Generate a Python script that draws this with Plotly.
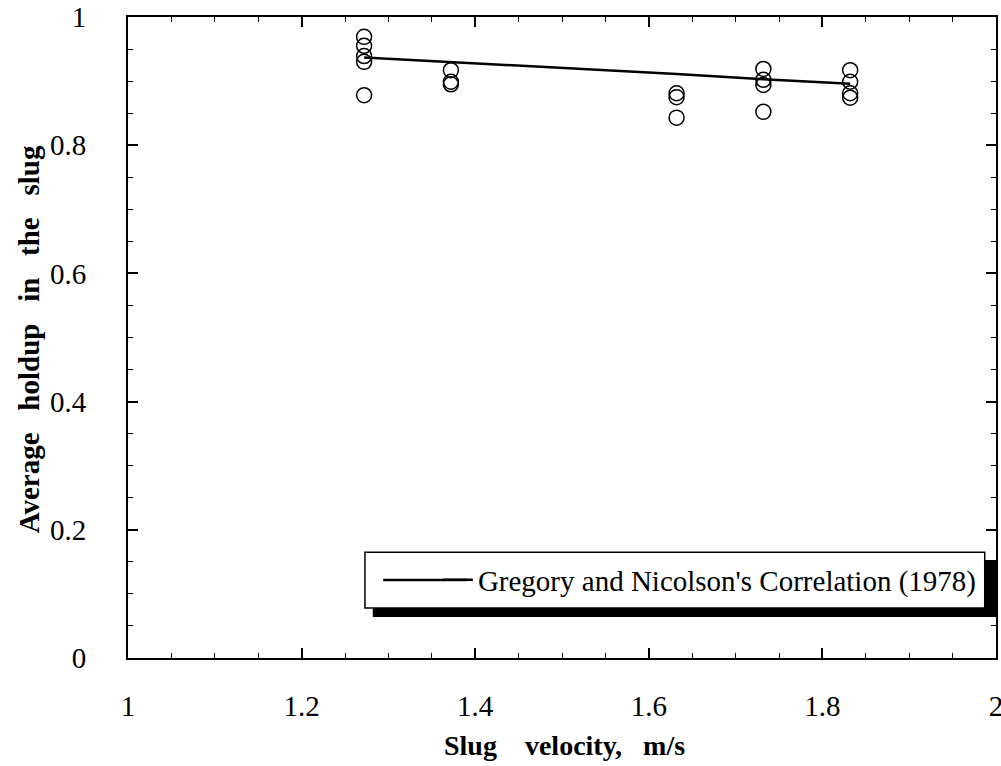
import plotly.graph_objects as go

# Measured data (slug velocity, m/s ; average holdup)
vel_meas = [1.272, 1.272, 1.272, 1.272, 1.272,
            1.372, 1.372, 1.372,
            1.632, 1.632, 1.632,
            1.732, 1.732, 1.732, 1.732,
            1.832, 1.832, 1.832, 1.832]
holdup_meas = [0.969, 0.955, 0.939, 0.930, 0.878,
               0.917, 0.899, 0.895,
               0.881, 0.875, 0.843,
               0.919, 0.902, 0.894, 0.852,
               0.917, 0.899, 0.881, 0.874]

# Gregory and Nicolson's correlation
vel_corr = [1.272, 1.372, 1.632, 1.732, 1.832]
holdup_corr = [0.937, 0.930, 0.911, 0.903, 0.896]

x_ticks = [1, 1.2, 1.4, 1.6, 1.8, 2]
x_labels = ["1", "1.2", "1.4", "1.6", "1.8", "2"]
y_ticks = [0, 0.2, 0.4, 0.6, 0.8, 1]
y_labels = ["0", "0.2", "0.4", "0.6", "0.8", "1"]

x_title = "Slug\u00a0\u00a0\u00a0\u00a0velocity,\u00a0\u00a0\u00a0m/s"
y_title = "\u00a0\u00a0\u00a0".join(["Average", "holdup", "in", "the", "slug"])

FONT = "Liberation Serif, Times New Roman, Times, serif"

fig = go.Figure()
fig.add_trace(go.Scatter(
    x=vel_meas, y=holdup_meas, mode="markers", showlegend=False,
    marker=dict(symbol="circle-open", size=15, color="black", line=dict(width=1.5)),
))
fig.add_trace(go.Scatter(
    x=vel_corr, y=holdup_corr, mode="lines",
    name="Gregory and Nicolson's Correlation (1978)",
    line=dict(color="black", width=2.5),
))

axis_common = dict(
    showline=True, linecolor="black", linewidth=2, mirror="allticks",
    ticks="inside", ticklen=10, tickwidth=1.5, tickcolor="black",
    showgrid=False, zeroline=False, automargin=False,
    ticklabeloverflow="allow",
    tickfont=dict(family=FONT, size=29, color="black"),
    minor=dict(ticks="inside", ticklen=5, tickwidth=1.2, tickcolor="black", dtick=0.05),
)

fig.update_xaxes(range=[1, 2], tickvals=x_ticks, ticktext=x_labels,
                 ticklabelstandoff=21, **axis_common)
fig.update_yaxes(range=[0, 1], tickvals=y_ticks, ticktext=y_labels,
                 ticklabelstandoff=34, **axis_common)

# axis titles
fig.add_annotation(text="<b>" + x_title + "</b>", xref="paper", yref="paper",
                   x=0.503, y=-0.137, xanchor="center", yanchor="middle",
                   showarrow=False, font=dict(family=FONT, size=28, color="black"))
fig.add_annotation(text="<b>" + y_title + "</b>", xref="paper", yref="paper",
                   x=-0.113, y=0.497, xanchor="center", yanchor="middle",
                   textangle=-90, showarrow=False,
                   font=dict(family=FONT, size=29, color="black"))

# legend shadow and box
fig.add_shape(type="rect", xref="paper", yref="paper",
              x0=0.282, x1=1.0, y0=0.064, y1=0.153,
              fillcolor="black", line=dict(width=0), layer="above")
fig.add_shape(type="rect", xref="paper", yref="paper",
              x0=0.273, x1=0.987, y0=0.078, y1=0.165,
              fillcolor="white", line=dict(color="black", width=1.5), layer="above")
# longer legend line sample
fig.add_shape(type="line", xref="paper", yref="paper",
              x0=0.294, x1=0.39, y0=0.1217, y1=0.1217,
              line=dict(color="black", width=2.5), layer="above")

fig.update_layout(
    width=1001, height=766,
    margin=dict(l=128, r=5, t=17, b=108),
    paper_bgcolor="white", plot_bgcolor="white",
    legend=dict(x=0.357, y=0.122, xanchor="left", yanchor="middle",
                bgcolor="rgba(0,0,0,0)", borderwidth=0,
                font=dict(family=FONT, size=29, color="black")),
)

fig.write_html("out.html")
